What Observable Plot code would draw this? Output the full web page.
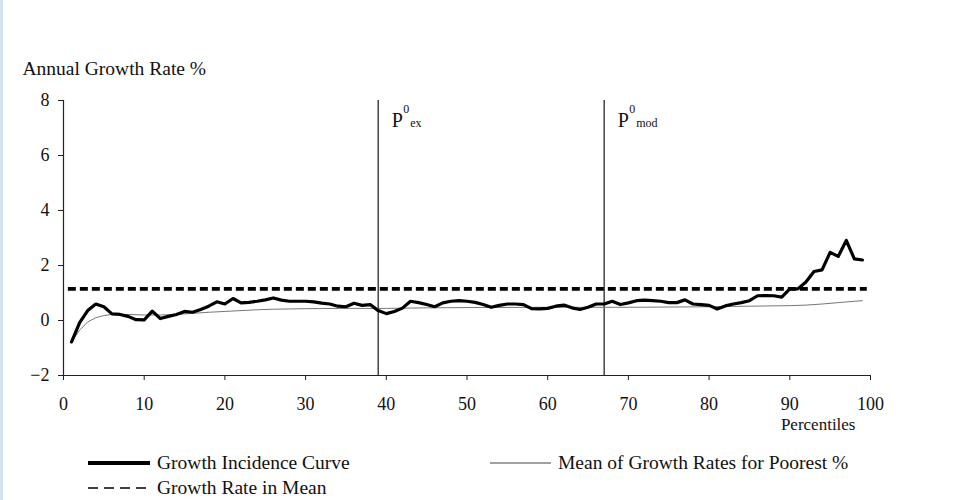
<!DOCTYPE html>
<html><head><meta charset="utf-8">
<script src="https://cdn.jsdelivr.net/npm/d3@7"></script>
<script src="https://cdn.jsdelivr.net/npm/@observablehq/plot@0.6"></script>
<style>
body{margin:0;background:#fff;width:963px;height:500px;position:relative;overflow:hidden;font-family:"Liberation Serif",serif;}
#edge{position:absolute;left:0;top:0;width:3px;height:500px;background:#d3e3f4;}
.leg{position:absolute;font-size:19.5px;color:#111;display:flex;align-items:center;white-space:nowrap;height:24px;}
.leg span{margin-left:7px;}
</style></head><body>
<div id="chart"></div>
<div id="edge"></div>
<div id="legend"></div>
<script>
// Percentiles 1..99
const percentiles = d3.range(1, 100);
// Growth incidence curve (annual growth rate %, per percentile)
const gicValues = [
 -0.78,-0.08,0.36,0.60,0.50,0.24,0.22,0.15,0.03,0.02,
 0.34,0.07,0.15,0.22,0.33,0.30,0.40,0.52,0.68,0.60,
 0.80,0.64,0.66,0.70,0.75,0.82,0.74,0.70,0.70,0.70,
 0.68,0.63,0.60,0.52,0.50,0.63,0.55,0.58,0.36,0.25,
 0.33,0.45,0.70,0.65,0.58,0.50,0.64,0.70,0.72,0.70,
 0.66,0.58,0.48,0.55,0.60,0.60,0.58,0.43,0.42,0.44,
 0.52,0.56,0.46,0.40,0.48,0.60,0.60,0.70,0.58,0.64,
 0.72,0.74,0.72,0.70,0.65,0.65,0.75,0.60,0.58,0.55,
 0.42,0.53,0.60,0.65,0.72,0.90,0.91,0.90,0.85,1.15,
 1.15,1.40,1.78,1.84,2.48,2.33,2.91,2.24,2.20
];
// Mean of growth rates for poorest p%
const meanPct = [1,2,3,4,5,6,8,10,12,14,16,18,20,22,24,26,28,30,35,40,45,50,60,70,80,85,90,92,94,96,98,99];
const meanValues = [-0.78,-0.35,-0.05,0.10,0.18,0.22,0.22,0.20,0.20,0.22,0.26,0.30,0.33,0.36,0.39,0.41,0.42,0.43,0.44,0.44,0.46,0.47,0.48,0.48,0.50,0.52,0.54,0.56,0.60,0.65,0.70,0.72];
// Growth rate in mean
const meanGrowth = 1.15;
const meanGrowthRange = [0.6, 99.6];
// Poverty line percentiles
const thresholdPct = [39, 67];
const thresholdSub = ["ex", "mod"];
const xTicks = [0,10,20,30,40,50,60,70,80,90,100];
const yTicks = [-2,0,2,4,6,8];

const gic = percentiles.map((p, i) => ({p, v: gicValues[i]}));
const meanPoor = meanPct.map((p, i) => ({p, v: meanValues[i]}));
const thresholds = thresholdPct.map((p, i) => ({p, sub: thresholdSub[i]}));

const chart = Plot.plot({
  width: 963, height: 440,
  marginLeft: 63, marginRight: 93, marginTop: 100, marginBottom: 65,
  style: {fontFamily: "Liberation Serif, serif", fontSize: "18px", color: "#111", background: "transparent"},
  x: {domain: [0, 100]},
  y: {domain: [-2, 8]},
  marks: [
    Plot.axisX({ticks: xTicks, tickSize: 5, tickPadding: 17, fontSize: 18, label: null, stroke: "#222"}),
    Plot.axisY({ticks: yTicks, tickSize: 5, tickPadding: 9, fontSize: 18, label: null, stroke: "#222"}),
    Plot.ruleX([0], {stroke: "#222", strokeWidth: 1.2}),
    Plot.ruleY([-2], {stroke: "#222", strokeWidth: 1.2}),
    Plot.ruleX(thresholds, {x: "p", stroke: "#444", strokeWidth: 1.5}),
    Plot.ruleY([meanGrowth], {x1: meanGrowthRange[0], x2: meanGrowthRange[1], stroke: "#000", strokeWidth: 3.8, strokeDasharray: "8,4"}),
    Plot.line(meanPoor, {x: "p", y: "v", stroke: "#777", strokeWidth: 1}),
    Plot.line(gic, {x: "p", y: "v", stroke: "#000", strokeWidth: 3.2, strokeLinejoin: "round"}),
    Plot.text(thresholds, {x: "p", y: () => 8, text: () => "P", dx: 19, dy: 20, fontSize: 20}),
    Plot.text(thresholds, {x: "p", y: () => 8, text: () => "0", dx: 28, dy: 9, fontSize: 12}),
    Plot.text(thresholds, {x: "p", y: () => 8, text: "sub", dx: 32, dy: 23, fontSize: 12, textAnchor: "start"}),
    Plot.text(["Annual Growth Rate %"], {frameAnchor: "top-left", dx: -41, dy: -39, textAnchor: "start", fontSize: 19.5}),
    Plot.text(["Percentiles"], {frameAnchor: "bottom-right", dx: -15, dy: 54, textAnchor: "end", fontSize: 17})
  ]
});
document.getElementById("chart").appendChild(chart);

// Legend
const legendItems = [
  {label: "Growth Incidence Curve", left: 88, top: 451, w: 62, sw: 4, dash: null, color: "#000"},
  {label: "Mean of Growth Rates for Poorest %", left: 490, top: 451, w: 61, sw: 1.2, dash: null, color: "#444"},
  {label: "Growth Rate in Mean", left: 88, top: 476, w: 62, sw: 1.6, dash: "10,6", color: "#000"}
];
const leg = d3.select("#legend");
legendItems.forEach(it => {
  const d = leg.append("div").attr("class", "leg").style("left", it.left + "px").style("top", it.top + "px");
  const s = d.append("svg").attr("width", it.w).attr("height", 24);
  s.append("line").attr("x1", 0).attr("x2", it.w).attr("y1", 12).attr("y2", 12)
    .attr("stroke", it.color).attr("stroke-width", it.sw).attr("stroke-dasharray", it.dash);
  d.append("span").text(it.label);
});
</script>
</body></html>
